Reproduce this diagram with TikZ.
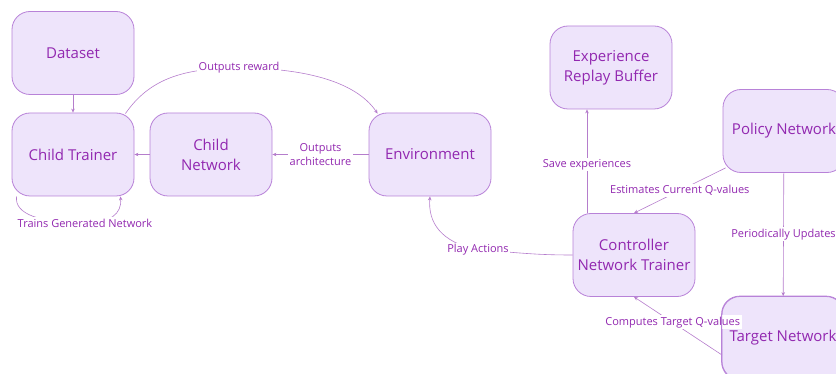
\documentclass[tikz,border=0pt]{standalone}
\usepackage{fontspec}
\setmainfont{Open Sans}
\usetikzlibrary{arrows.meta,calc}
\definecolor{txt}{HTML}{9228B0}
\definecolor{boxfill}{HTML}{EEE4FB}
\definecolor{boxline}{HTML}{B882D8}
\definecolor{edge}{HTML}{B57DCC}
\tikzset{
  box/.style={draw=boxline, line width=0.8pt, fill=boxfill, rounded corners=18pt,
    minimum width=122pt, minimum height=83pt, align=center, text=txt,
    font=\fontsize{15}{20}\selectfont, inner sep=0pt},
  lbl/.style={fill=white, text=txt, font=\fontsize{11}{14}\selectfont, inner sep=1.5pt, align=center},
  arr/.style={draw=edge, line width=0.6pt, -{Stealth[length=4pt,width=3.5pt]}},
}
\begin{document}
\begin{tikzpicture}[x=1pt,y=-1pt]
\path[use as bounding box] (0,0) rectangle (836,374);
\clip (0,0) rectangle (836,374);
\node[box] (ds) at (73,53) {Dataset};
\node[box] (ct) at (73,154.5) {Child Trainer};
\node[box] (cn) at (211,154.5) {Child\\Network};
\node[box] (env) at (430,154.5) {Environment};
\node[box] (erb) at (611,67.5) {Experience\\Replay Buffer};
\node[box] (pol) at (784,131) {Policy Network};
\node[box] (ctrl) at (634,255) {Controller\\Network Trainer};
\node[box] (tgt) at (783,338) {Target Network};

\draw[arr] (ds) -- (ct);
\draw[arr] (cn) -- (ct);
\draw[arr] (env) -- node[lbl]{Outputs\\architecture} (cn);
\coordinate (ctne) at ($(ct.north east)+(-9,1)$);
\coordinate (envnw) at ($(env.north west)+(9,1)$);
\coordinate (rw) at (239,68);
\draw[arr] (ctne) .. controls (150,78) and (185,68) .. (rw)
  .. controls (300,68) and (355,80) .. (envnw);
\node[lbl] at (rw) {Outputs reward};
\coordinate (ctsw) at ($(ct.south west)+(5,0)$);
\coordinate (ctse) at ($(ct.south east)+(-14,0)$);
\coordinate (tg) at (85,223);
\draw[arr] (ctsw) .. controls (14,214) and (40,223) .. (tg)
  .. controls (110,223) and (122,214) .. (ctse);
\node[lbl] at (tg) {Trains Generated Network};
\coordinate (pa) at (478,250);
\draw[arr] (ctrl.west) .. controls (530,255) and (515,252) .. (pa)
  .. controls (440,242) and (428,222) .. (env.south);
\node[lbl] at (pa) {Play Actions};
\coordinate (sv0) at (ctrl.north -| 587,0);
\coordinate (sv1) at (erb.south -| 587,0);
\draw[arr] (sv0) -- node[lbl,pos=0.47]{Save experiences} (sv1);
\coordinate (polsw) at ($(pol.south west)+(3,-5)$);
\draw[arr] (polsw) -- node[lbl,pos=0.5]{Estimates Current Q-values} (ctrl.north);
\draw[arr] (pol) -- node[lbl]{Periodically Updates} (tgt);
\coordinate (tgw) at (722,355);
\draw[arr] (tgw) -- node[lbl,pos=0.56]{Computes Target Q-values} (ctrl.south);
\draw[draw=boxline, line width=0.8pt, rounded corners=18pt] (tgt.north west) rectangle (tgt.south east);
\end{tikzpicture}
\end{document}
